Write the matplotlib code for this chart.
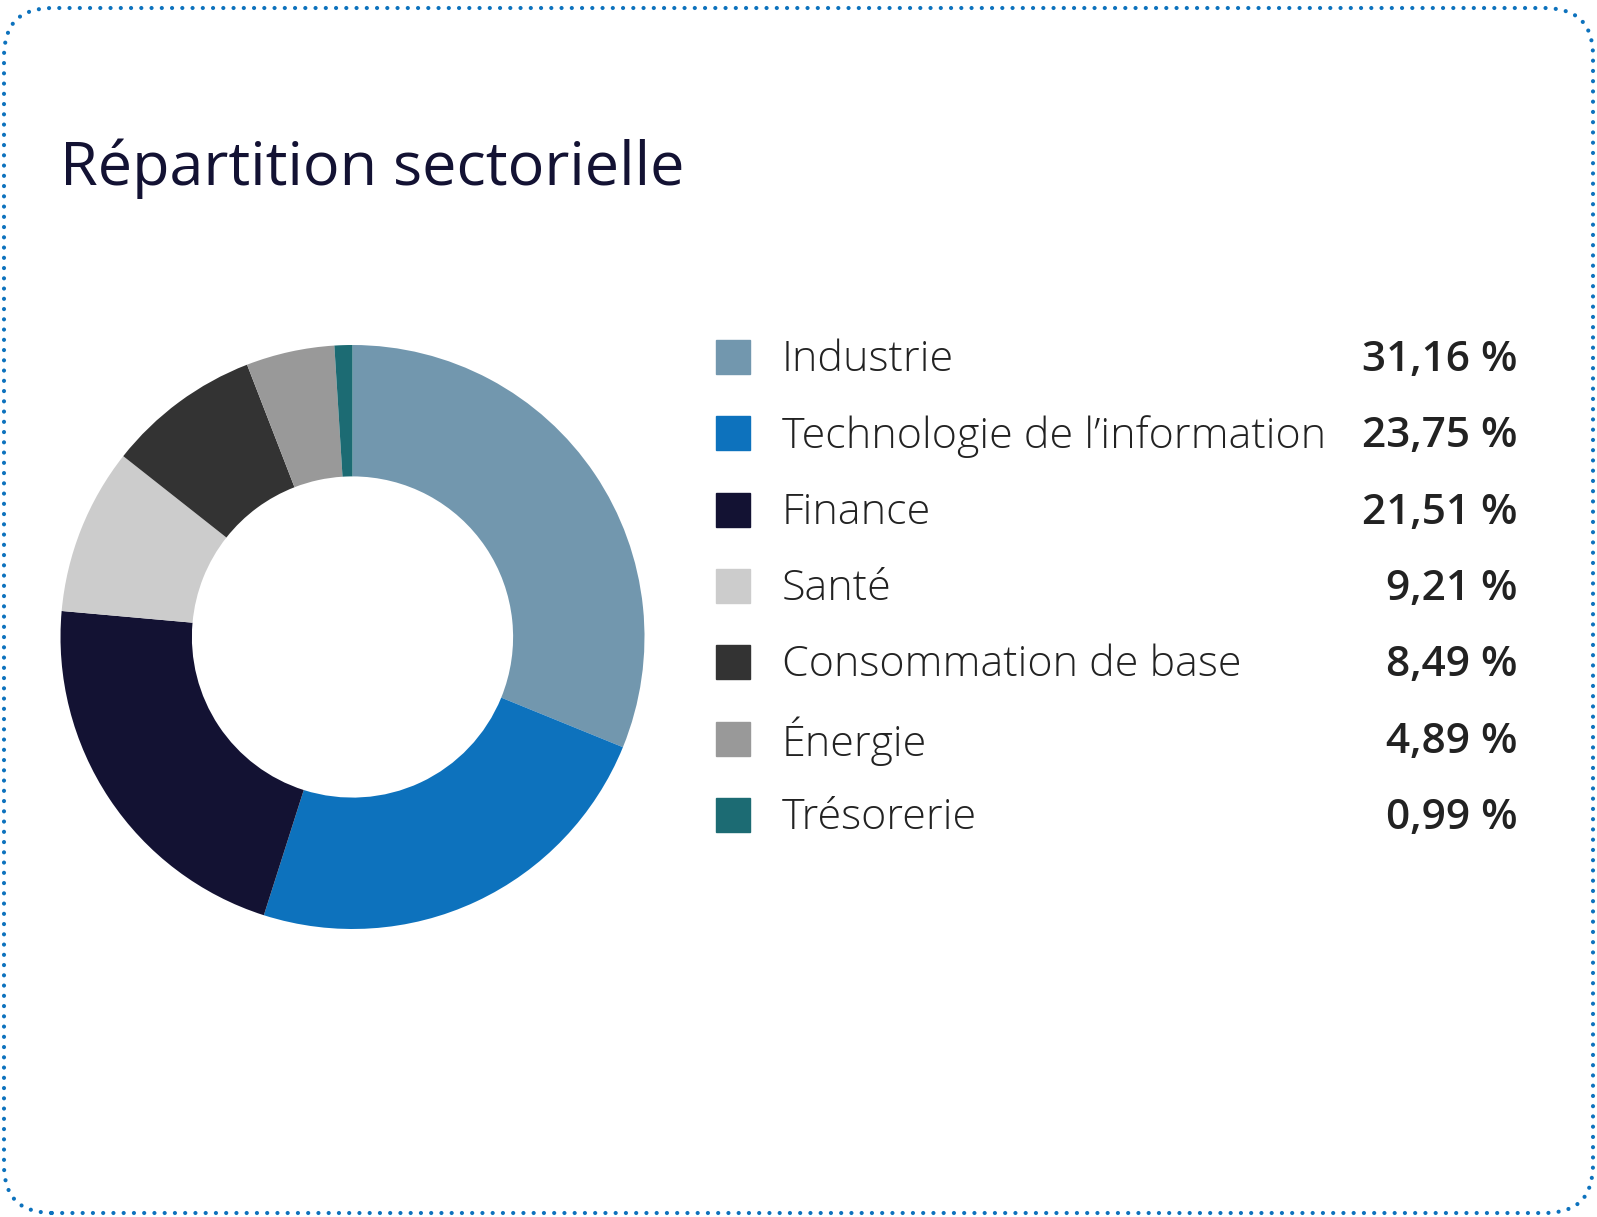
import matplotlib.pyplot as plt
from matplotlib.patches import FancyBboxPatch


secteurs = ['Industrie', 'Technologie de l\u2019information', 'Finance', 'Santé',
            'Consommation de base', 'Énergie', 'Trésorerie']
poids = [31.16, 23.75, 21.51, 9.21, 8.49, 4.89, 0.99]
etiquettes = ['31,16 %', '23,75 %', '21,51 %', '9,21 %', '8,49 %', '4,89 %', '0,99 %']
couleurs = ['#7297ae', '#0d72bd', '#131233', '#cccccc', '#333333', '#999999', '#1c6b73']

W, H = 1597, 1217
fig = plt.figure(figsize=(W / 100, H / 100), dpi=100)
fig.patch.set_facecolor('white')

# cadre pointillé arrondi
cadre = FancyBboxPatch((4 / W, 4 / H), (W - 8) / W, (H - 12) / H,
                       boxstyle='round,pad=0,rounding_size=0.03',
                       transform=fig.transFigure, fill=False,
                       edgecolor='#0d72bd', linewidth=3,
                       linestyle=(0, (0.01, 2.45)), capstyle='round',
                       mutation_aspect=W / H)
fig.patches.append(cadre)

fig.text(60 / W, 1 - 185 / H, 'Répartition sectorielle', fontsize=44,
         family='Open Sans', color='#131233', ha='left', va='baseline')

# donut
cx, cy, r = 352.5, 637, 292
ax = fig.add_axes([(cx - r) / W, (H - cy - r) / H, 2 * r / W, 2 * r / H])
ax.pie(poids, colors=couleurs, startangle=90, counterclock=False,
       wedgeprops=dict(width=0.45, edgecolor='none'), radius=1)
ax.set_xlim(-1, 1)
ax.set_ylim(-1, 1)
ax.set_aspect('equal')
ax.axis('off')

# légende
y0, dy = 357, 76.3
for i, (nom, val, c) in enumerate(zip(secteurs, etiquettes, couleurs)):
    y = y0 + i * dy
    fig.patches.append(plt.Rectangle((716 / W, 1 - (y + 17) / H), 34 / W, 34 / H,
                                     transform=fig.transFigure, color=c))
    fig.text(782 / W, 1 - (y + 3) / H, nom, fontsize=31, family='Open Sans',
             weight='light', color='#222222', ha='left', va='center')
    fig.text(1518 / W, 1 - (y + 3) / H, val, fontsize=30.5, family='Open Sans',
             weight='semibold', color='#222222', ha='right', va='center')

fig.savefig('out.png', dpi=100)
